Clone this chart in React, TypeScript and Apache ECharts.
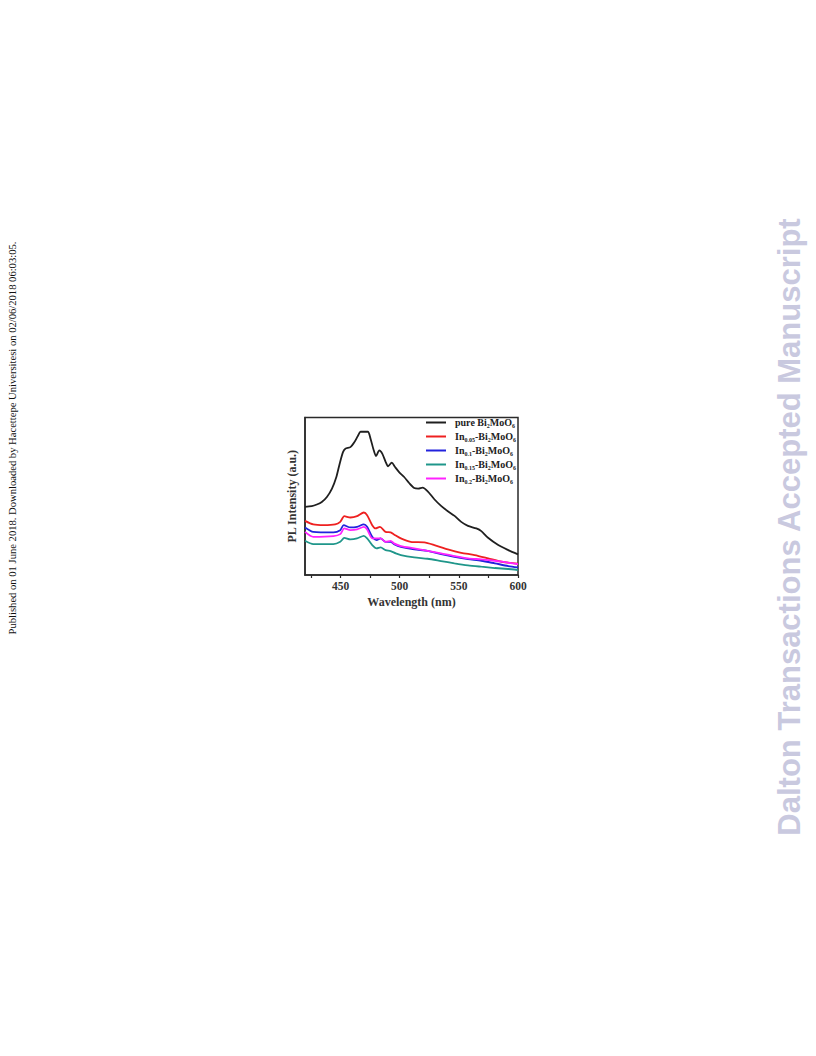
import React, { useEffect, useRef } from "react";
import * as echarts from "echarts";

// Wavelength (nm) / PL intensity (a.u.) pairs
const pureBi2MoO6: number[][] = [
  [420, 68.3], [425.7, 69], [430, 70.7], [434.2, 73.3], [438.5, 78.3], [442.8, 86.7],
  [446.5, 98.3], [449.3, 111.7], [452.1, 123.3], [454.1, 126.7], [458.4, 128.3],
  [461.8, 133.3], [464.6, 139.3], [466.9, 143.7], [473.1, 143.7], [475.4, 136.7],
  [477.7, 126.7], [480, 119.3], [482.8, 125], [485.3, 121.7], [488.2, 113.3],
  [490.2, 109], [493.3, 112.7], [496.1, 108.3], [499.5, 103.3], [503.8, 98.3],
  [508, 92.3], [512.3, 87.3], [515.7, 86.7], [519.4, 87.7], [523.7, 84], [529.3, 76],
  [535, 69.3], [540.7, 64], [546.4, 59.3], [552, 53.3], [557.7, 49.3], [564.8, 46.7],
  [569, 44], [574.7, 37.3], [583.3, 30], [591.8, 25], [600, 20.7],
];
const in005: number[][] = [
  [420, 54.3], [427, 50.7], [436, 50], [445.5, 50.7], [449.8, 53.3], [453.2, 59],
  [458.3, 57.7], [464, 59], [469.7, 62.7], [472.5, 60], [476.8, 50], [479.6, 46.7],
  [483.3, 48.3], [488.1, 43.3], [492.4, 42.7], [495.2, 40.7], [501, 36.7], [509.4, 33.3],
  [520.8, 32.7], [529.3, 30], [540.7, 25.7], [552, 22.3], [563.4, 20], [574.8, 16.7],
  [586.1, 13.3], [600, 11.3],
];
const in01: number[][] = [
  [420, 47.7], [427, 43.3], [444, 42.7], [449.8, 45], [452.7, 50], [458.3, 47.7],
  [464, 48.3], [469.7, 50.7], [472.5, 48.3], [476.8, 38.3], [480.5, 35], [483.9, 36.7],
  [488.1, 33.3], [492.4, 33.3], [495.2, 31], [501, 28.3], [512.3, 25.7], [523.6, 24.3],
  [535, 21], [546.3, 18.3], [557.7, 16], [569, 14.3], [580.4, 11.7], [591.8, 9], [600, 7.7],
];
const in015: number[][] = [
  [420, 34.3], [427, 31], [444, 31], [449.8, 33.3], [453.2, 37.3], [458.3, 35.7],
  [464, 36.7], [469.7, 39.3], [472.5, 36.7], [476.8, 30], [480.5, 26.7], [483.9, 27.7],
  [488.1, 25], [492.4, 24], [496.7, 21.7], [501, 20], [512.3, 17.7], [523.6, 16.3],
  [535, 14], [546.3, 11.7], [557.7, 9.7], [569, 8.3], [580.4, 7], [591.8, 6], [600, 5],
];
const in02: number[][] = [
  [420, 43.3], [427, 38.3], [444, 39], [449.8, 41], [453.2, 46.7], [458.3, 45],
  [464, 45.7], [469.7, 48.3], [472.5, 45.7], [476.8, 36.7], [480.5, 36.7], [483.9, 36.7],
  [488.1, 33.3], [492.4, 34.3], [495.2, 31.7], [501, 29], [512.3, 26.7], [523.6, 24.3],
  [535, 21.7], [546.3, 19], [557.7, 16.7], [569, 15.7], [580.4, 14.3], [591.8, 12.3], [600, 11],
];

const seriesNames = [
  "pure Bi2MoO6",
  "In0.05-Bi2MoO6",
  "In0.1-Bi2MoO6",
  "In0.15-Bi2MoO6",
  "In0.2-Bi2MoO6",
];
const legendRich: Record<string, string> = {
  "pure Bi2MoO6": "{n|pure Bi}{s|2}{n|MoO}{s|6}",
  "In0.05-Bi2MoO6": "{n|In}{s|0.05}{n|-Bi}{s|2}{n|MoO}{s|6}",
  "In0.1-Bi2MoO6": "{n|In}{s|0.1}{n|-Bi}{s|2}{n|MoO}{s|6}",
  "In0.15-Bi2MoO6": "{n|In}{s|0.15}{n|-Bi}{s|2}{n|MoO}{s|6}",
  "In0.2-Bi2MoO6": "{n|In}{s|0.2}{n|-Bi}{s|2}{n|MoO}{s|6}",
};
const seriesColors = ["#1f1f1f", "#ee2020", "#2222dd", "#1f968a", "#ff22ff"];
const seriesData = [pureBi2MoO6, in005, in01, in015, in02];
const xTickValues = [425, 450, 475, 500, 525, 550, 575, 600];
const xLabelValues = [450, 500, 550, 600];

const SERIF = "'Liberation Serif', 'Times New Roman', serif";

export default function App() {
  const ref = useRef<HTMLDivElement>(null);
  useEffect(() => {
    if (!ref.current) return;
    const chart = echarts.init(ref.current, undefined, { renderer: "svg" });
    chart.setOption({
      animation: false,
      backgroundColor: "#ffffff",
      grid: {
        left: 305,
        top: 417.5,
        width: 213,
        height: 157.5,
        show: true,
        borderColor: "#2a2a2a",
        borderWidth: 1.5,
        backgroundColor: "transparent",
      },
      legend: {
        orient: "vertical",
        left: 426,
        top: 417.5,
        padding: 0,
        itemWidth: 20,
        itemHeight: 2,
        itemGap: 3,
        icon: "rect",
        data: seriesNames,
        formatter: (name: string) => legendRich[name],
        textStyle: {
          fontFamily: SERIF,
          fontWeight: "bold",
          color: "#222",
          padding: [0, 0, 0, 4],
          rich: {
            n: { fontFamily: SERIF, fontWeight: "bold", fontSize: 10, lineHeight: 12, color: "#222" },
            s: { fontFamily: SERIF, fontWeight: "bold", fontSize: 6, lineHeight: 7, verticalAlign: "bottom", color: "#222" },
          },
        },
      },
      xAxis: {
        type: "value",
        min: 420,
        max: 600,
        name: "Wavelength (nm)",
        nameLocation: "middle",
        nameGap: 21,
        nameTextStyle: { fontFamily: SERIF, fontWeight: "bold", fontSize: 12, color: "#333" },
        axisLine: { show: true, lineStyle: { color: "#2a2a2a", width: 1.5 } },
        axisTick: { show: true, customValues: xTickValues, length: 3, lineStyle: { color: "#2a2a2a", width: 1.2 } },
        axisLabel: {
          customValues: xLabelValues,
          margin: 5,
          fontFamily: SERIF,
          fontWeight: "bold",
          fontSize: 11.5,
          color: "#333",
        },
        splitLine: { show: false },
      },
      yAxis: {
        type: "value",
        min: 0,
        max: 158,
        name: "PL Intensity (a.u.)",
        nameLocation: "middle",
        nameGap: 7,
        nameRotate: 90,
        nameTextStyle: { fontFamily: SERIF, fontWeight: "bold", fontSize: 12, color: "#333" },
        axisLine: { show: true, lineStyle: { color: "#2a2a2a", width: 1.5 } },
        axisTick: { show: false },
        axisLabel: { show: false },
        splitLine: { show: false },
      },
      series: seriesNames.map((name, i) => ({
        name,
        type: "line",
        data: seriesData[i],
        showSymbol: false,
        smooth: 0.25,
        color: seriesColors[i],
        lineStyle: { color: seriesColors[i], width: 1.8 },
      })),
      graphic: [
        {
          type: "text",
          x: 12,
          y: 438,
          rotation: Math.PI / 2,
          style: {
            text: "Published on 01 June 2018. Downloaded by Hacettepe Universitesi on 02/06/2018 06:03:05.",
            fontFamily: SERIF,
            fontSize: 10.6,
            fill: "#111",
            align: "center",
            verticalAlign: "middle",
          },
        },
        {
          type: "text",
          x: 789,
          y: 527,
          rotation: Math.PI / 2,
          style: {
            text: "Dalton Transactions Accepted Manuscript",
            fontFamily: "'Liberation Sans', Arial, sans-serif",
            fontWeight: "bold",
            fontSize: 31,
            fill: "#c9c9df",
            align: "center",
            verticalAlign: "middle",
          },
        },
      ],
    });
    return () => chart.dispose();
  }, []);
  return (
    <div
      ref={ref}
      style={{ position: "absolute", left: 0, top: 0, width: 816, height: 1056 }}
    />
  );
}
